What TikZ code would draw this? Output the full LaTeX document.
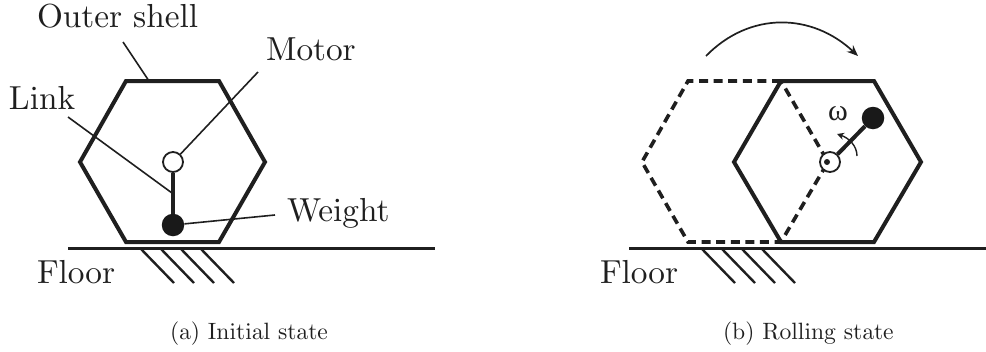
\documentclass[tikz,border=0pt]{standalone}
\usepackage{fontspec}
\usetikzlibrary{arrows.meta}
\font\lab=cmr10 at 33.3pt
\font\cap=cmr10 at 23.6pt
\newfontfamily\om{Liberation Serif}[Scale=1]
\tikzset{
  x=1pt,y=-1pt,
  shell/.style={line width=4pt,line join=miter,black!88},
  ghost/.style={line width=3.6pt,black!88,dash pattern=on 9pt off 5.6pt},
  leader/.style={line width=1.6pt,black!88},
  rod/.style={line width=4pt,black!88},
  floorline/.style={line width=3pt,black!88},
  hatch/.style={line width=2.4pt,black!88},
  txt/.style={anchor=base west,inner sep=0pt,outer sep=0pt,text=black!88},
  motorc/.style={circle,draw=black!88,fill=white,line width=1.8pt,minimum size=20pt,inner sep=0pt},
  weightc/.style={circle,fill=black!90,minimum size=22.5pt,inner sep=0pt},
}
\begin{document}
\begin{tikzpicture}
\useasboundingbox (0,0) rectangle (986,351);
% ---------- (a)
\coordinate (fa1) at (68,248); \coordinate (fa2) at (435,248);
\draw[floorline] (fa1) -- (fa2);
\foreach \i/\x in {1/141,2/161,3/181,4/201}{
  \coordinate (ha\i) at (\x,249); \coordinate (hb\i) at (\x+33,283);
  \draw[hatch] (ha\i) -- (hb\i);}
\coordinate (a1) at (126,81); \coordinate (a2) at (219,81); \coordinate (a3) at (265,162);
\coordinate (a4) at (219,242); \coordinate (a5) at (126,242); \coordinate (a6) at (80,162);
\draw[shell] (a1)--(a2)--(a3)--(a4)--(a5)--(a6)--cycle;
\node[motorc] (ma) at (173,162) {};
\node[weightc] (wa) at (173,225) {};
\draw[rod] (ma) -- (wa);
\node[txt] (tshell) at (37,27) {\lab Outer shell};
\node[txt] (tmotor) at (266,60) {\lab Motor};
\node[txt] (tlink) at (9,109) {\lab Link};
\node[txt] (tweight) at (287,221) {\lab Weight};
\node[txt] (tfloora) at (37,283) {\lab Floor};
\node[txt] (capa) at (170,339) {\cap (a) Initial state};
\coordinate (ls1) at (123,42); \coordinate (ls2) at (149,81);
\coordinate (lm1) at (258,72);
\coordinate (ll1) at (68,117); \coordinate (ll2) at (172,193);
\coordinate (lw1) at (275,215);
\draw[leader] (ls1) -- (ls2);
\draw[leader] (lm1) -- (ma);
\draw[leader] (ll1) -- (ll2);
\draw[leader] (lw1) -- (wa);
% ---------- (b)
\coordinate (fb1) at (629,248); \coordinate (fb2) at (986,248);
\draw[floorline] (fb1) -- (fb2);
\foreach \i/\x in {1/702,2/722,3/742,4/762}{
  \coordinate (hc\i) at (\x,249); \coordinate (hd\i) at (\x+33,283);
  \draw[hatch] (hc\i) -- (hd\i);}
\coordinate (g1) at (781,81); \coordinate (g2) at (688,81); \coordinate (g3) at (642,162);
\coordinate (g4) at (688,242); \coordinate (g5) at (781,242); \coordinate (g6) at (828,162);
\draw[ghost] (g1)--(g2)--(g3)--(g4)--(g5)--(g6)--cycle;
\coordinate (b1) at (781,81); \coordinate (b2) at (874,81); \coordinate (b3) at (921,162);
\coordinate (b4) at (874,242); \coordinate (b5) at (781,242); \coordinate (b6) at (734,162);
\draw[shell] (b1)--(b2)--(b3)--(b4)--(b5)--(b6)--cycle;
\node[motorc] (mb) at (830,162) {};
\fill[black!88] (827,162) circle (3pt);
\node[weightc] (wb) at (873,118) {};
\draw[rod] (mb) -- (wb);
\node[txt] (tfloorb) at (600,283) {\lab Floor};
\node[txt] (capb) at (723,339) {\cap (b) Rolling state};
\node[txt] (tom) at (828,120) {\fontsize{30}{32}\selectfont\om ω};
\coordinate (r1) at (706,56); \coordinate (r2) at (858,56);
\draw[line width=1.7pt,black!88,-{Stealth[length=11pt,width=9pt]}] (r1) .. controls (750,11) and (812,13) .. (r2);
\coordinate (w1) at (857,156); \coordinate (w2) at (837,134);
\draw[line width=1.4pt,black!88,-{Stealth[length=7pt,width=7pt]}] (w1) .. controls (857,146) and (849,138) .. (w2);
\end{tikzpicture}
\end{document}
